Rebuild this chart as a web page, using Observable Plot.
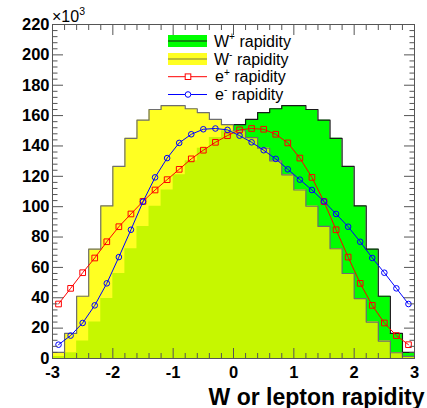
<!DOCTYPE html>
<html><head><meta charset="utf-8">
<script src="https://cdn.jsdelivr.net/npm/d3@7"></script>
<script src="https://cdn.jsdelivr.net/npm/@observablehq/plot@0.6"></script>
<style>
body{margin:0;background:#fff;}
#wrap{position:relative;width:427px;height:408px;font-family:"Liberation Sans",Arial,Helvetica,sans-serif;}
#wrap svg{display:block;}
#overlay{position:absolute;left:0;top:0;pointer-events:none;overflow:visible;}
</style></head><body><div id="wrap"></div>
<script>
// bin centres (rapidity), width 0.2
const binCenters = [-2.9,-2.7,-2.5,-2.3,-2.1,-1.9,-1.7,-1.5,-1.3,-1.1,-0.9,-0.7,-0.5,-0.3,-0.1,0.1,0.3,0.5,0.7,0.9,1.1,1.3,1.5,1.7,1.9,2.1,2.3,2.5,2.7,2.9];
const binWidth = 0.2;
// counts in units of 10^3
const wMinus = [4,16.5,41,72,100.5,126.5,145,157,164,166.5,166.5,164.5,162,157.5,154,150,145.5,138.5,130.2,121,111,100.3,87,72.3,56,39.5,24,11.5,3.8,1.4];
const wPlus  = [1.4,3.8,11.5,24,39.5,56,72.3,87,100.3,111,121,130.2,138.5,145.5,150,154,157.5,162,164.5,166.5,166.5,164,157,145,126.5,100.5,72,41,16.5,4];
const ePlus  = [35.9,46.2,56.5,66.2,76.9,86.8,95.2,103.5,111,117.8,124.6,131.5,137.2,142.4,146.8,150.6,151.5,151,147.7,142,132,119.3,103.3,84.8,66.8,49.5,35,23.4,15.1,9.1];
const eMinus = [9.1,15.1,23.4,35,49.5,66.8,84.8,103.3,119.3,132,142,147.7,151,151.5,150.6,146.8,142.4,137.2,131.5,124.6,117.8,111,103.5,95.2,86.8,76.9,66.2,56.5,46.2,35.9];
const xTicks = [-3,-2,-1,0,1,2,3];
const yTicks = [0,20,40,60,80,100,120,140,160,180,200,220];
const legendLabels = ["rapidity"];

const steps = binCenters.map((c, i) => ({x: c - binWidth / 2, wp: wPlus[i], wm: wMinus[i]}));
steps.push({x: binCenters[binCenters.length - 1] + binWidth / 2, wp: wPlus[wPlus.length - 1], wm: wMinus[wMinus.length - 1]});
const pts = binCenters.map((c, i) => ({x: c, ep: ePlus[i], em: eMinus[i]}));

const yMinor = d3.range(0, 221, 4).filter(v => v % 20 !== 0);
const xMinor = d3.range(-30, 31, 2).map(v => v / 10).filter(v => !Number.isInteger(v));

const FRAME = "#555";
const fmt = d => String(d);

const plot = Plot.plot({
  width: 427, height: 408,
  marginLeft: 52, marginRight: 13, marginTop: 24, marginBottom: 50,
  style: {fontFamily: "Liberation Sans, Arial, Helvetica, sans-serif", background: "white", color: "black", overflow: "visible"},
  x: {domain: [-3, 3]},
  y: {domain: [0, 220]},
  marks: [
    Plot.areaY(steps, {x: "x", y: "wp", curve: "step-after", fill: "#00ff00"}),
    Plot.lineY(steps, {x: "x", y: "wp", curve: "step-after", stroke: "#1a1a1a", strokeWidth: 1.2}),
    Plot.areaY(steps, {x: "x", y: "wm", curve: "step-after", fill: "#ffff22"}),
    Plot.areaY(steps, {x: "x", y: d => Math.min(d.wp, d.wm), curve: "step-after", fill: "#c6f700"}),
    Plot.lineY(steps, {x: "x", y: "wm", curve: "step-after", stroke: "#6e6e6e", strokeWidth: 1.2}),
    Plot.line(pts, {x: "x", y: "ep", stroke: "#ff0000", strokeWidth: 1}),
    Plot.dot(pts, {x: "x", y: "ep", symbol: "square", r: 3.2, stroke: "#ff0000", fill: "none", strokeWidth: 1}),
    Plot.line(pts, {x: "x", y: "em", stroke: "#0000ff", strokeWidth: 1}),
    Plot.dot(pts, {x: "x", y: "em", symbol: "circle", r: 2.8, stroke: "#0000ff", fill: "none", strokeWidth: 1}),
    Plot.frame({stroke: FRAME}),
    Plot.axisY(yTicks, {anchor: "left", tickSize: -11, fill: "none", stroke: FRAME, label: null}),
    Plot.axisY(yMinor, {anchor: "left", tickSize: -5.5, fill: "none", stroke: FRAME, label: null}),
    Plot.axisY(yTicks, {anchor: "right", tickSize: -11, fill: "none", stroke: FRAME, label: null}),
    Plot.axisY(yMinor, {anchor: "right", tickSize: -5.5, fill: "none", stroke: FRAME, label: null}),
    Plot.axisX(xTicks, {anchor: "bottom", tickSize: -10, fill: "none", stroke: FRAME, label: null}),
    Plot.axisX(xMinor, {anchor: "bottom", tickSize: -5, fill: "none", stroke: FRAME, label: null}),
    Plot.axisX(xTicks, {anchor: "top", tickSize: -10, fill: "none", stroke: FRAME, label: null}),
    Plot.axisX(xMinor, {anchor: "top", tickSize: -5, fill: "none", stroke: FRAME, label: null}),
    Plot.axisY(yTicks, {anchor: "left", tickSize: 0, tickPadding: 3, fontSize: 16.5, fontWeight: "bold", tickFormat: fmt, label: null}),
    Plot.axisX(xTicks, {anchor: "bottom", tickSize: 0, tickPadding: 8, fontSize: 16.5, fontWeight: "bold", tickFormat: fmt, label: null}),
    Plot.axisX([], {anchor: "bottom", tickSize: 0, label: "W or lepton rapidity", labelAnchor: "right", labelOffset: 46, labelArrow: "none", fontSize: 23, fontWeight: "bold"})
  ]
});

const wrap = document.getElementById("wrap");
wrap.appendChild(plot);

const lab = legendLabels[0];
const overlay = `
<svg id="overlay" width="427" height="408" font-family="Liberation Sans, Arial, Helvetica, sans-serif">
  <text x="52" y="21.7" font-size="16">×10<tspan font-size="10.5" dy="-7">3</tspan></text>
  <rect x="168" y="35" width="39" height="12" fill="#00ff00"/>
  <line x1="168" x2="207" y1="41" y2="41" stroke="#1a1a1a" stroke-width="1.2"/>
  <text x="214" y="46.7" font-size="16">W<tspan font-size="10" dy="-6.5">+</tspan><tspan dy="6.5"> ${lab}</tspan></text>
  <rect x="168" y="53" width="39" height="12" fill="#ffff22"/>
  <line x1="168" x2="207" y1="59" y2="59" stroke="#7a7a40" stroke-width="1.2"/>
  <text x="214" y="64.5" font-size="16">W<tspan font-size="10" dy="-6.5">-</tspan><tspan dy="6.5"> ${lab}</tspan></text>
  <line x1="168" x2="207" y1="76.7" y2="76.7" stroke="#ff0000" stroke-width="1"/>
  <rect x="185.2" y="73.9" width="5.6" height="5.6" fill="white" stroke="#ff0000" stroke-width="1"/>
  <text x="215" y="82" font-size="16">e<tspan font-size="10" dy="-6.5">+</tspan><tspan dy="6.5"> ${lab}</tspan></text>
  <line x1="168" x2="207" y1="94.5" y2="94.5" stroke="#0000ff" stroke-width="1"/>
  <circle cx="188" cy="94.5" r="2.8" fill="white" stroke="#0000ff" stroke-width="1"/>
  <text x="215" y="99.6" font-size="16">e<tspan font-size="10" dy="-6.5">-</tspan><tspan dy="6.5"> ${lab}</tspan></text>
</svg>`;
wrap.insertAdjacentHTML("beforeend", overlay);
</script>
</body></html>
